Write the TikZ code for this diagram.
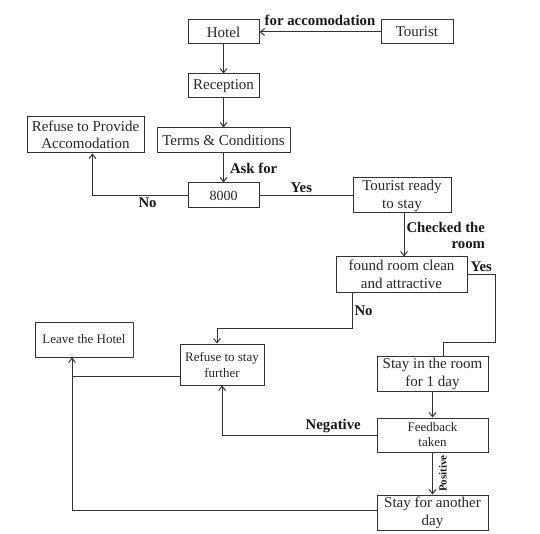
\documentclass[tikz,border=0pt]{standalone}
\usepackage{fontspec}
\setmainfont{Liberation Serif}
\usetikzlibrary{arrows.meta}

\begin{document}
\begin{tikzpicture}[
    x=1pt, y=-1pt,
    box/.style={
      rectangle, draw=black!80, line width=1pt, inner sep=1pt,
      align=center, text=black!85, font=\fontsize{15}{18}\selectfont
    },
    sbox/.style={box, font=\fontsize{13}{16}\selectfont},
    arr/.style={-{Straight Barb[length=1.5mm, width=2.4mm]}, draw=black!80, line width=1pt},
    plain/.style={draw=black!80, line width=1pt},
    lbl/.style={font=\bfseries\fontsize{14.8}{17}\selectfont, text=black!90, inner sep=2pt}
  ]
    \useasboundingbox (0,0) rectangle (540,534);

    \node[box, minimum width=71pt, minimum height=24pt] (hotel) at (223.5,32) {Hotel};
    \node[box, minimum width=72pt, minimum height=24pt] (tourist) at (417,32) {Tourist};
    \node[box, minimum width=71pt, minimum height=24pt] (reception) at (223.5,86) {Reception};
    \node[box, minimum width=133pt, minimum height=25pt] (terms) at (223.5,140.5) {Terms \& Conditions};
    \node[box, minimum width=117pt, minimum height=36pt, font=\fontsize{15}{17}\selectfont] (refuseacc) at (85.5,135) {Refuse to Provide\\Accomodation};
    \node[box, minimum width=71pt, minimum height=25pt, font=\fontsize{14}{16}\selectfont] (ask) at (223.5,195.5) {8000};
    \node[box, minimum width=98pt, minimum height=35pt] (ready) at (402,195.5) {Tourist ready\\to stay};
    \node[box, minimum width=131pt, minimum height=35pt] (found) at (401.5,274.5) {found room clean\\and attractive};
    \node[sbox, minimum width=98pt, minimum height=35pt] (leave) at (84,339.5) {Leave the Hotel};
    \node[sbox, minimum width=84pt, minimum height=41pt] (refusestay) at (222,364.5) {Refuse to stay\\further};
    \node[box, minimum width=111pt, minimum height=35pt] (stayday) at (432.5,373.5) {Stay in the room\\for 1 day};
    \node[sbox, minimum width=111pt, minimum height=34pt, font=\fontsize{13}{15}\selectfont] (feedback) at (432.5,435) {Feedback\\taken};
    \node[box, minimum width=111pt, minimum height=35pt] (another) at (432.5,512.5) {Stay for another\\day};

    % bends of the long connectors
    \coordinate (yesbend) at (495,342);
    \coordinate (nobend) at (352,328);
    \coordinate (leftrail) at ([xshift=-12pt]leave.south);

    \draw[arr] (tourist) -- node[lbl, above, yshift=4pt] {for accomodation} (hotel);
    \draw[arr] (hotel) -- (reception);
    \draw[arr] (reception) -- (terms);
    \draw[arr] (terms) -- node[lbl, right, xshift=4pt] {Ask for} (ask);
    \draw[arr] (ask.west) -| node[lbl, below, pos=0.21] {No} ([xshift=7pt]refuseacc.south);
    \draw[plain] (ask) -- node[lbl, above, pos=0.45] {Yes} (ready);
    \draw[arr] (ready.south -| 404,0) -- node[lbl, right, align=right, font=\bfseries\fontsize{14.8}{16}\selectfont] {Checked the\\room} (found.north -| 404,0);
    \draw[plain] (found.east) -| node[lbl, above, pos=0.25] {Yes} (yesbend) -| ([xshift=10.5pt]stayday.north);
    \draw[arr] (found.south -| nobend) -- node[lbl, right] {No} (nobend) -| ([xshift=-5pt]refusestay.north);
    \draw[plain] ([yshift=-11.5pt]refusestay.west) -- ([yshift=-11.5pt]refusestay.west -| leftrail);
    \draw[arr] ([yshift=2.5pt]another.west) -| (leftrail);
    \draw[arr] (stayday) -- (feedback);
    \draw[arr] (feedback.west) -| node[lbl, above, pos=0.14] {Negative} (refusestay.south);
    \draw[arr] (feedback) -- node[xshift=5pt, rotate=90, anchor=north, lbl, font=\bfseries\fontsize{11}{12}\selectfont, inner sep=1pt] {Positive} (another);
  \end{tikzpicture}
\end{document}
